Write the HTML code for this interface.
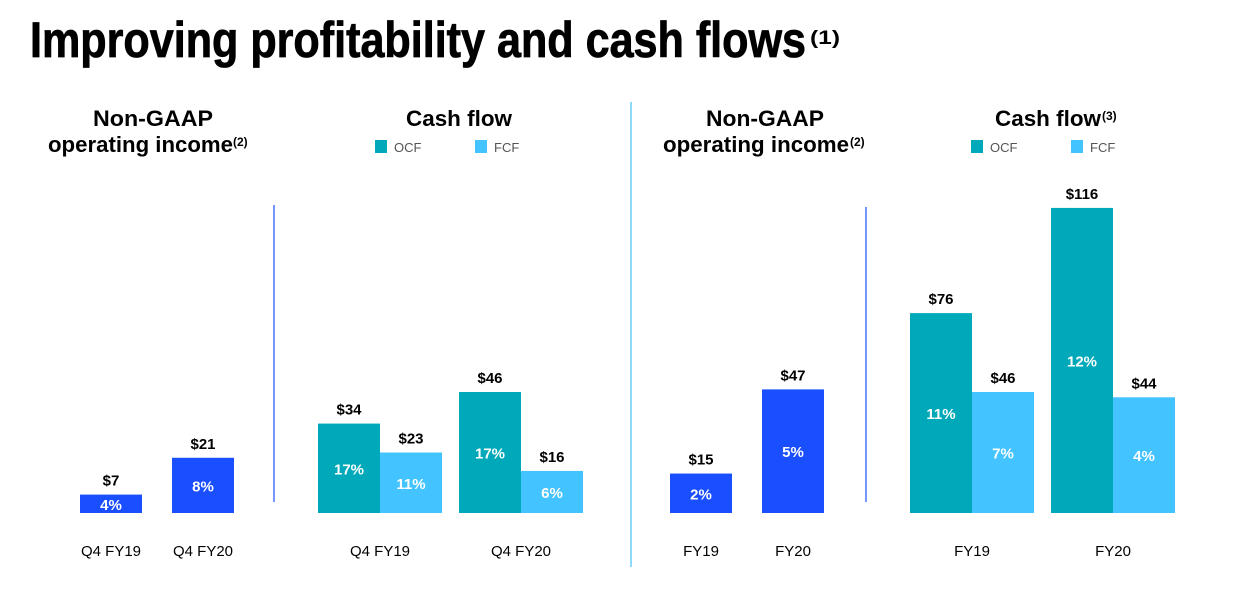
<!DOCTYPE html>
<html><head><meta charset="utf-8"><style>
html,body{margin:0;padding:0;background:#fff;}
svg{display:block;font-family:"Liberation Sans",Arial,sans-serif;}
</style></head><body>
<svg id="chart" width="1234" height="592" viewBox="0 0 1234 592">
<text x="30" y="57" font-size="50" font-weight="bold" stroke="#000" stroke-width="0.8" textLength="776" lengthAdjust="spacingAndGlyphs">Improving profitability and cash flows</text>
<text x="810" y="44" font-size="19" font-weight="bold" textLength="30" lengthAdjust="spacingAndGlyphs">(1)</text>

<g font-weight="bold" font-size="22">
<text x="153" y="126" text-anchor="middle" textLength="120" lengthAdjust="spacingAndGlyphs">Non-GAAP</text>
<text x="48" y="152" textLength="185" lengthAdjust="spacingAndGlyphs">operating income</text>
<text x="233" y="146" font-size="12">(2)</text>
<text x="406" y="126" textLength="106" lengthAdjust="spacingAndGlyphs">Cash flow</text>
<text x="765" y="126" text-anchor="middle" textLength="118" lengthAdjust="spacingAndGlyphs">Non-GAAP</text>
<text x="663" y="152" textLength="186" lengthAdjust="spacingAndGlyphs">operating income</text>
<text x="850" y="146" font-size="12">(2)</text>
<text x="995" y="126" textLength="106" lengthAdjust="spacingAndGlyphs">Cash flow</text>
<text x="1102" y="120" font-size="12">(3)</text>
</g>

<g font-size="13" fill="#555">
<rect x="375" y="140" width="12" height="13" fill="#00a9b9"/>
<text x="394" y="152">OCF</text>
<rect x="475" y="140" width="12" height="13" fill="#43c3ff"/>
<text x="494" y="152">FCF</text>
<rect x="971" y="140" width="12" height="13" fill="#00a9b9"/>
<text x="990" y="152">OCF</text>
<rect x="1071" y="140" width="12" height="13" fill="#43c3ff"/>
<text x="1090" y="152">FCF</text>
</g>

<line x1="274" y1="205" x2="274" y2="502" stroke="#1a4fff" stroke-width="1.2"/>
<line x1="631" y1="102" x2="631" y2="567" stroke="#43c3ff" stroke-width="1.2"/>
<line x1="866" y1="207" x2="866" y2="502" stroke="#1a4fff" stroke-width="1.2"/>
<g id="bars"></g>
</svg>
<script>
// Panel 1: Non-GAAP operating income (quarterly)
const p1Categories = ["Q4 FY19", "Q4 FY20"];
const p1Values = [7, 21];
const p1Margins = ["4%", "8%"];
// Panel 2: cash flow (quarterly)
const p2Categories = ["Q4 FY19", "Q4 FY20"];
const p2Ocf = [34, 46];
const p2Fcf = [23, 16];
const p2OcfMargins = ["17%", "17%"];
const p2FcfMargins = ["11%", "6%"];
// Panel 3: Non-GAAP operating income (annual)
const p3Categories = ["FY19", "FY20"];
const p3Values = [15, 47];
const p3Margins = ["2%", "5%"];
// Panel 4: cash flow (annual)
const p4Categories = ["FY19", "FY20"];
const p4Ocf = [76, 116];
const p4Fcf = [46, 44];
const p4OcfMargins = ["11%", "12%"];
const p4FcfMargins = ["7%", "4%"];

const NS = "http://www.w3.org/2000/svg";
const g = document.getElementById("bars");
const BASE = 513, PX = 2.63;
function y(v){ return BASE - v * PX; }
function el(tag, attrs, text){
  const e = document.createElementNS(NS, tag);
  for (const k in attrs) e.setAttribute(k, attrs[k]);
  if (text !== undefined) e.textContent = text;
  g.appendChild(e);
  return e;
}
function bar(x, w, v, color, pct, name){
  const r = el("rect", {x: x, y: y(v), width: w, height: BASE - y(v), fill: color});
  
  
  const t = el("text", {x: x + w/2, y: y(v) - 9, "text-anchor": "middle", "font-size": 15, "font-weight": "bold"}, "$" + v);
  
  
  const p = el("text", {x: x + w/2, y: (y(v) + BASE)/2 + 6, "text-anchor": "middle", "font-size": 15, "font-weight": "bold", fill: "#fff"}, pct);
  
  
}
function cat(cx, label, name){
  const t = el("text", {x: cx, y: 556, "text-anchor": "middle", "font-size": 15}, label);
  
  
}
const BW = 62;
const p1X = [80, 172];
p1Values.forEach((v, i) => { bar(p1X[i], BW, v, "#1a4fff", p1Margins[i], "p1-bar-" + i); cat(p1X[i] + BW/2, p1Categories[i], "p1-x-label-" + i); });
const p2X = [318, 459];
p2Ocf.forEach((v, i) => {
  bar(p2X[i], BW, v, "#00a9b9", p2OcfMargins[i], "p2-ocf-bar-" + i);
  bar(p2X[i] + BW, BW, p2Fcf[i], "#43c3ff", p2FcfMargins[i], "p2-fcf-bar-" + i);
  cat(p2X[i] + BW, p2Categories[i], "p2-x-label-" + i);
});
const p3X = [670, 762];
p3Values.forEach((v, i) => { bar(p3X[i], BW, v, "#1a4fff", p3Margins[i], "p3-bar-" + i); cat(p3X[i] + BW/2, p3Categories[i], "p3-x-label-" + i); });
const p4X = [910, 1051];
p4Ocf.forEach((v, i) => {
  bar(p4X[i], BW, v, "#00a9b9", p4OcfMargins[i], "p4-ocf-bar-" + i);
  bar(p4X[i] + BW, BW, p4Fcf[i], "#43c3ff", p4FcfMargins[i], "p4-fcf-bar-" + i);
  cat(p4X[i] + BW, p4Categories[i], "p4-x-label-" + i);
});
</script>
</body></html>
